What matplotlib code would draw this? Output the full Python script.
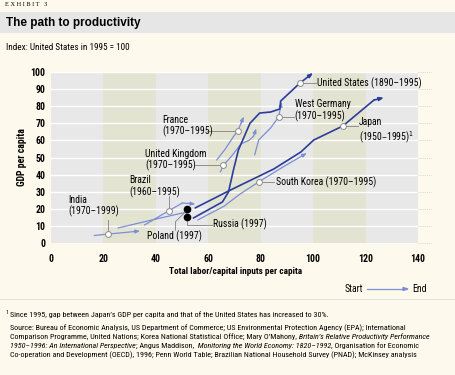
import matplotlib.pyplot as plt
from matplotlib.patches import Rectangle

plt.rcParams["font.family"] = ["Roboto Condensed", "DejaVu Sans"]
plt.rcParams["font.stretch"] = "condensed"

# index: United States in 1995 = 100
# x = total labor/capital inputs per capita, y = GDP per capita
us_x = [54.3, 65.4, 67.7, 69.6, 71.5, 75.9, 79.6, 83.8, 87.3, 87.6, 95.0, 100.0]
us_y = [14.6, 24.0, 29.8, 42.7, 54.4, 70.0, 76.0, 76.6, 78.4, 83.0, 93.6, 99.5]
japan_x = [55.0, 68.5, 85.0, 95.3, 100.2, 111.3, 123.2, 127.0]
japan_y = [20.5, 31.0, 43.3, 53.2, 60.2, 68.4, 83.6, 85.0]
korea_x = [56.0, 66.0, 72.0, 79.2, 88.0, 97.6]
korea_y = [13.5, 21.5, 28.5, 35.7, 44.0, 52.6]
germany_x = [77.7, 79.2, 83.8, 86.8, 88.0]
germany_y = [51.5, 60.2, 67.3, 73.7, 82.5]
france_x = [63.2, 66.5, 69.5, 71.2, 72.5, 73.5]
france_y = [48.5, 55.0, 62.0, 65.5, 70.0, 74.0]
uk_x = [64.6, 65.8, 69.0, 72.5, 75.5, 77.3, 78.3]
uk_y = [41.5, 45.6, 51.0, 58.0, 60.0, 62.5, 67.0]
brazil_x = [35.6, 45.0, 50.1, 55.1]
brazil_y = [10.5, 18.9, 23.4, 22.8]
india_x = [16.5, 21.6, 34.0]
india_y = [4.4, 5.2, 7.0]
other_x = [25.6, 40.0, 53.5]
other_y = [8.8, 14.0, 18.7]
poland = (52.0, 20.0)
russia = (52.0, 15.2)

x_ticks = [0, 20, 40, 60, 80, 100, 120, 140]
y_ticks = [0, 10, 20, 30, 40, 50, 60, 70, 80, 90, 100]

DARK = "#2b3c9c"
LIGHT = "#7b8ed6"
LEADER = "#808080"
CREAM = "#fdf9ec"

fig = plt.figure(figsize=(4.55, 3.75), dpi=100, facecolor=CREAM)

# header band and separator
fig.patches.append(Rectangle((0, 1 - 33 / 375), 1, 21 / 375, transform=fig.transFigure,
                             facecolor="#e6e6e6", edgecolor="none", zorder=0))
fig.patches.append(Rectangle((0, 1 - 300 / 375), 1, 0.8 / 375, transform=fig.transFigure,
                             facecolor="#e4e4e4", edgecolor="none", zorder=0))

fig.text(5 / 455, 1 - 5 / 375, "E X H I B I T   3", family="Liberation Serif",
         fontsize=4.5, va="center", ha="left")
fig.text(6 / 455, 1 - 23 / 375, "The path to productivity", family="Liberation Sans",
         fontweight="bold", fontsize=8.5, va="center", ha="left")
fig.text(6 / 455, 1 - 47 / 375, "Index: United States in 1995 = 100", fontsize=6.6,
         va="center", ha="left")

ax = fig.add_axes([51 / 455, (375 - 243) / 375, 367 / 455, 171 / 375])
ax.set_facecolor("#e8e8e8")
for x0 in [20, 60, 100]:
    ax.axvspan(x0, x0 + 20, color="#e3e3d2", zorder=0, lw=0)
for yv in y_ticks[1:]:
    ax.axhline(yv, color="white", lw=1.0, zorder=1)
for yv in y_ticks:
    ax.plot([1.0, 1.035], [yv / 100, yv / 100], transform=ax.transAxes, clip_on=False,
            color="#c8c8c8", lw=0.6, ls=(0, (1, 1.5)))

ax.set_xlim(0, 140)
ax.set_ylim(0, 100)
ax.set_xticks(x_ticks)
ax.set_yticks(y_ticks)
ax.tick_params(length=0, labelsize=7, pad=4)
ax.tick_params(axis="x", pad=8)
for lab in ax.get_xticklabels() + ax.get_yticklabels():
    lab.set_fontweight("bold")
for s in ax.spines.values():
    s.set_visible(False)


def path(xs, ys, color, lw):
    ax.plot(xs[:-1], ys[:-1], color=color, lw=lw, zorder=3, solid_capstyle="round")
    ax.annotate("", xy=(xs[-1], ys[-1]), xytext=(xs[-2], ys[-2]), zorder=3,
                arrowprops=dict(arrowstyle="-|>,head_length=0.26,head_width=0.1",
                                color=color, lw=lw, shrinkA=0, shrinkB=0))


def leader(pts):
    ax.plot([p[0] for p in pts], [p[1] for p in pts], color=LEADER, lw=0.6, zorder=2)


def circle(x, y):
    ax.plot(x, y, "o", ms=4.2, mfc="white", mec="#8a8a8a", mew=0.7, zorder=5)


path(other_x, other_y, LIGHT, 0.9)
path(india_x, india_y, LIGHT, 0.9)
path(brazil_x, brazil_y, LIGHT, 0.9)
path(korea_x, korea_y, LIGHT, 0.9)
path(france_x, france_y, LIGHT, 0.9)
path(uk_x, uk_y, LIGHT, 0.9)
path(germany_x, germany_y, LIGHT, 0.9)
path(japan_x, japan_y, DARK, 1.2)
path(us_x, us_y, DARK, 1.2)

ax.plot(*poland, "o", color="black", ms=4.5, zorder=6)
ax.plot(*russia, "o", color="black", ms=4.5, zorder=6)

fs = 7
# United States
leader([(us_x[10], us_y[10]), (101, us_y[10])])
circle(us_x[10], us_y[10])
ax.text(101.6, us_y[10], "United States (1890\u20131995)", fontsize=fs, va="center")
# West Germany
leader([(germany_x[3], germany_y[3]), (92.6, germany_y[3])])
circle(germany_x[3], germany_y[3])
ax.text(93.0, 77.6, "West Germany\n(1970\u20131995)", fontsize=fs, va="center", linespacing=1.1)
# Japan
leader([(japan_x[5], japan_y[5]), (117, japan_y[5])])
circle(japan_x[5], japan_y[5])
ax.text(117.5, 65.5, "Japan\n(1950\u20131995)$^{1}$", fontsize=fs, va="center", linespacing=1.1)
# South Korea
leader([(korea_x[3], korea_y[3]), (85.2, korea_y[3])])
circle(korea_x[3], korea_y[3])
ax.text(85.7, korea_y[3], "South Korea (1970\u20131995)", fontsize=fs, va="center")
# France
leader([(59.5, france_y[3]), (france_x[3], france_y[3])])
circle(france_x[3], france_y[3])
ax.text(42.5, 68.5, "France\n(1970\u20131995)", fontsize=fs, va="center", linespacing=1.1)
# United Kingdom
leader([(55.0, uk_y[1]), (uk_x[1], uk_y[1])])
circle(uk_x[1], uk_y[1])
ax.text(36.0, 48.5, "United Kingdom\n(1970\u20131995)", fontsize=fs, va="center", linespacing=1.1)
# Brazil
leader([(brazil_x[1], brazil_y[1]), (brazil_x[1], 27.5)])
circle(brazil_x[1], brazil_y[1])
ax.text(29.8, 33.0, "Brazil\n(1960\u20131995)", fontsize=fs, va="center", linespacing=1.1)
# India
leader([(india_x[1], india_y[1]), (india_x[1], 13.5)])
circle(india_x[1], india_y[1])
ax.text(6.6, 21.5, "India\n(1970\u20131999)", fontsize=fs, va="center", linespacing=1.1)
# Poland
leader([(poland[0] - 1.2, poland[1] - 2.5), (47.5, 12.5), (47.5, 7.5)])
ax.text(47.2, 4.2, "Poland (1997)", fontsize=fs, va="center", ha="center")
# Russia
leader([(russia[0], russia[1] - 2), (russia[0], 10.8), (61.3, 10.8)])
ax.text(61.8, 10.8, "Russia (1997)", fontsize=fs, va="center")

fig.text(22 / 455, 1 - 157 / 375, "GDP per capita", rotation=90, fontsize=7,
         fontweight="bold", va="center", ha="center")
fig.text(236 / 455, 1 - 272 / 375, "Total labor/capital inputs per capita", fontsize=6.7,
         fontweight="bold", va="center", ha="center")

# legend
fig.text(363 / 455, 1 - 289 / 375, "Start", fontsize=7, va="center", ha="right")
fig.text(412 / 455, 1 - 289 / 375, "End", fontsize=7, va="center", ha="left")
fig.add_artist(plt.Line2D([367 / 455, 404 / 455], [1 - 289 / 375] * 2, color=LIGHT, lw=0.9))
fig.patches.append(plt.Polygon([[403 / 455, 1 - 287.5 / 375], [408 / 455, 1 - 289 / 375],
                                [403 / 455, 1 - 290.5 / 375]], closed=True,
                               transform=fig.transFigure, color=LIGHT))

# footnotes
renderer = fig.canvas.get_renderer()


def runs(x_px, y_px, parts, size=5.75):
    x = x_px / fig.bbox.width
    for s, st in parts:
        t = fig.text(x, 1 - y_px / 375, s, fontsize=size, style=st, va="center", ha="left")
        x += t.get_window_extent(renderer).width / fig.bbox.width


fig.text(6 / 455, 1 - 313 / 375, "1", fontsize=4.2, va="center", ha="left")
runs(10, 315, [("Since 1995, gap between Japan\u2019s GDP per capita and that of the United "
                "States has increased to 30%.", "normal")])
runs(10, 328, [("Source: Bureau of Economic Analysis, US Department of Commerce; US "
                "Environmental Protection Agency (EPA); International", "normal")])
runs(10, 337, [("Comparison Programme, United Nations; Korea National Statistical Office; "
                "Mary O\u2019Mahony,", "normal"),
               ("\u00a0Britain\u2019s Relative Productivity Performance", "italic")])
runs(10, 346, [("1950\u20131996: An International Perspective", "italic"),
               ("; Angus Maddison,", "normal"),
               ("\u00a0 Monitoring the World Economy: 1820\u20131992", "italic"),
               (", Organisation for Economic", "normal")])
runs(10, 355, [("Co-operation and Development (OECD), 1996; Penn World Table; Brazilian "
                "National Household Survey (PNAD); McKinsey analysis", "normal")])

fig.savefig("out.png", dpi=100, facecolor=CREAM)
